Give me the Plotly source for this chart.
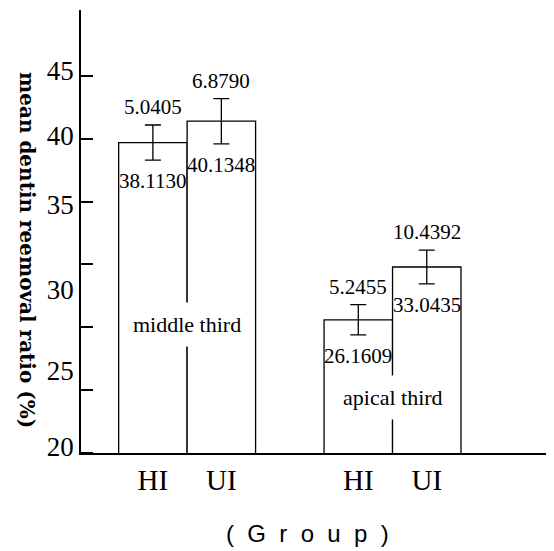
import plotly.graph_objects as go

# ---- data ----
groups = ["middle third", "apical third"]
methods = ["HI", "UI"]
# bar heights as drawn against the y-axis
bar_heights = [[39.7, 41.4], [25.6, 29.8]]
# half-length of the drawn error bars
err_half = [[1.4, 1.8], [1.2, 1.35]]
# printed numbers
mean_labels = [["38.1130", "40.1348"], ["26.1609", "33.0435"]]
sd_labels = [["5.0405", "6.8790"], ["5.2455", "10.4392"]]
ytick_labels = ["45", "40", "35", "30", "25", "20"]
ytick_marks = [45, 40, 35, 30, 25, 20, 15]

SERIF = "Liberation Serif"

xs, hs, es, xt = [], [], [], []
for gi, g in enumerate(groups):
    for mi, m in enumerate(methods):
        xs.append(gi * 3 + mi)
        hs.append(bar_heights[gi][mi])
        es.append(err_half[gi][mi])
        xt.append(m)

fig = go.Figure()
fig.add_trace(go.Bar(
    x=xs, y=hs, width=1,
    marker=dict(color="white", line=dict(color="black", width=1.3)),
    error_y=dict(type="data", array=es, visible=True, color="black",
                 thickness=1.3, width=8),
    showlegend=False, hoverinfo="skip",
))

ann = []
k = 0
for gi, g in enumerate(groups):
    for mi, m in enumerate(methods):
        x = xs[k]; h = hs[k]; e = es[k]
        ann.append(dict(x=x, y=h + e, text=sd_labels[gi][mi], showarrow=False,
                        yanchor="bottom", yshift=4,
                        font=dict(family=SERIF, size=21, color="black")))
        ann.append(dict(x=x, y=h - e, text=mean_labels[gi][mi], showarrow=False,
                        yanchor="top", yshift=-7,
                        font=dict(family=SERIF, size=21, color="black")))
        k += 1

group_label_y = [25.2, 19.4]
for gi, g in enumerate(groups):
    ann.append(dict(x=gi * 3 + 0.5, y=group_label_y[gi], text=g, showarrow=False,
                    bgcolor="white", borderpad=9,
                    font=dict(family=SERIF, size=22, color="black")))

ann.append(dict(xref="paper", yref="paper", x=-0.115, y=0.458,
                xanchor="center", yanchor="middle",
                text="<b>mean dentin reemoval ratio (%)</b>", textangle=90,
                showarrow=False,
                font=dict(family="DejaVu Serif", size=20, color="black")))
ann.append(dict(xref="paper", yref="paper", x=0.482, y=-0.181,
                xanchor="center", yanchor="middle",
                text="(  G  r  o  u  p  )", showarrow=False,
                font=dict(family="Liberation Sans", size=24, color="black")))

# the page body has an 8px margin, so the figure is sized to fit the window
fig.update_layout(
    width=546, height=543,
    margin=dict(l=73, r=4, t=2, b=98),
    plot_bgcolor="white", paper_bgcolor="white",
    annotations=ann,
    xaxis=dict(range=[-1.05, 5.8], tickvals=xs, ticktext=xt, ticks="",
               showline=True, linecolor="black", linewidth=1.5,
               showgrid=False, zeroline=False, ticklabelstandoff=0,
               tickfont=dict(family=SERIF, size=29, color="black")),
    yaxis=dict(range=[15, 50.25],
               tickvals=[45.4, 40.3, 34.75, 28.0, 21.6, 15.5],
               ticktext=ytick_labels, ticks="",
               showline=True, linecolor="black", linewidth=1.5,
               showgrid=False, zeroline=False,
               tickfont=dict(family=SERIF, size=27, color="black"),
               minor=dict(tickvals=ytick_marks, ticks="inside", ticklen=12,
                          tickwidth=1.5, tickcolor="black", showgrid=False)),
)

fig.write_html("out.html")
